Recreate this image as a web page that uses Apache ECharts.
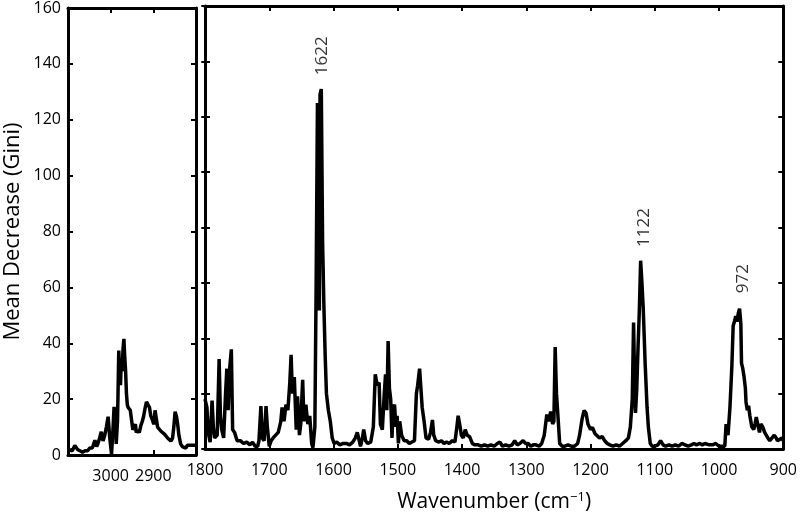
<!DOCTYPE html>
<html>
<head>
<meta charset="utf-8">
<script src="https://cdn.jsdelivr.net/npm/echarts@6/dist/echarts.min.js"></script>
<style>html,body{margin:0;padding:0;background:#fff;}#c{width:800px;height:518px;}</style>
</head>
<body>
<div id="c"></div>
<script>
// Left panel (C-H region)
const leftWn = [3100,3095,3090,3084,3078,3072,3066,3060,3054,3049,3043,3037,3033,3030,3026,3022,3018,3014,3010,3006,3002,2998,2995,2992,2989,2987,2984,2983,2981,2979,2977,2975,2973,2971,2969,2967,2965,2963,2961,2959,2957,2954,2952,2948,2945,2942,2940,2937,2933,2929,2926,2923,2919,2916,2913,2909,2906,2902,2899,2896,2893,2890,2886,2882,2878,2874,2870,2866,2862,2859,2855,2852,2849,2846,2843,2840,2836,2832,2828,2824,2820,2816,2812,2809,2805,2800];
const leftVal = [1.5,1.8,1.5,3.4,2,1.5,1,1.5,1.5,2.5,2.5,5.3,3,4,6,8.3,5,7,10,13.7,6,0.3,8,17.2,13,4,12,20,37.4,30,25,34,30,38,41.6,35,30,22,18,17,17,16,16,9,10,11,8,9,8,10.7,12,13.7,17,19,18.5,17,14,12.5,11,16,13,10,9.5,8.5,8,7.5,7,6,5.5,5,6,10,15.5,14,11,7,4,3,3,2.5,3.5,3.5,3.5,4,3.5,3.5];

// Right panel (fingerprint region)
const rightWn = [1800,1797,1795,1792,1789,1787,1785,1781,1778,1776,1774,1771,1768,1766,1764,1762,1759,1757,1754,1750,1745,1740,1735,1730,1726,1722,1718,1716,1713,1711,1708,1705,1703,1700,1697,1694,1690,1686,1682,1680,1677,1674,1671,1668,1666,1664,1661,1658,1656,1653,1651,1648,1646,1643,1640,1637,1634,1632,1629,1627,1625,1623,1622,1621,1619,1617,1615,1613,1611,1608,1605,1602,1599,1595,1590,1585,1580,1575,1570,1566,1563,1560,1558,1555,1553,1550,1547,1542,1538,1535,1532,1529,1527,1524,1521,1519,1517,1515,1513,1511,1509,1507,1505,1503,1501,1499,1497,1494,1490,1486,1482,1478,1474,1471,1469,1466,1464,1462,1459,1456,1452,1449,1446,1444,1441,1436,1432,1428,1424,1420,1415,1411,1408,1406,1403,1401,1398,1395,1392,1388,1384,1380,1375,1370,1365,1360,1355,1350,1345,1341,1337,1332,1327,1322,1318,1314,1310,1305,1301,1297,1293,1289,1285,1280,1276,1272,1268,1265,1262,1259,1257,1255,1253,1251,1248,1244,1240,1235,1230,1225,1220,1217,1213,1210,1207,1204,1200,1197,1193,1190,1186,1182,1178,1174,1170,1165,1160,1155,1150,1145,1141,1138,1135,1133,1131,1130,1128,1126,1124,1122,1120,1118,1115,1112,1110,1107,1104,1100,1095,1091,1087,1083,1078,1073,1068,1063,1058,1053,1048,1043,1039,1035,1030,1026,1022,1019,1015,1010,1005,1000,995,991,989,986,983,980,978,976,974,972,970,968,966,965,963,961,959,958,956,954,952,949,946,944,942,939,937,935,932,929,927,924,921,918,914,911,909,906,902,900];
const rightVal = [18,15,6,2.5,17.5,8,4,5,32.5,12,7,4,20,29,14,28,36,7,6,3,3,2,2.5,1.5,2.5,1,1,3,15.5,4,3,15.5,8,1,3,4,5,6,10,15,10,16,14,24,34,20,26,7,19,5,9,25,10,16,9,12,2,0.5,8,60,125,118,50,128,130,75,52,34,20,14,10,4,2,2.5,1.5,2,2,1.5,2.5,4,6,3,1,4,7,3,2,2.5,8,27,23,24,9,7,20,27,14,39,22,18,4,15,16,8,12,2,10,5,3,3,2,2.5,3,20,23,29,22,15,10,4,3.5,6,10.5,5,3,2.5,3,2,2.5,2,3,2.5,8,12,8,5,4,7,5,4.4,2,1.5,1.5,1,1.5,1,1.5,1,2,2.5,1,1.5,1,1.5,3,1.5,2,3,2,2,1,1.5,1.5,1,2,5,12.5,10,13.5,9,10,36.8,20,13,2,1,1,1.5,1,1,2,5,11,13.9,13,9,7,7.8,5.5,5,4,4.5,3,2,1.5,1,1.5,1,2,3,4,8,18,45.7,20,13,22,37,50,68,60,51,31,15,8,2,1,1,1.5,3,1.5,1,1.5,1,1.5,1,2,1.5,1,1.5,2,1.5,2,1.5,2,2.5,1.5,1.5,2,1,1,1,9,5,15,30,44.5,46,48,46,49,50.7,45,31,29,26,22,17,14,15.6,12,8,7,9,11.5,8,6,9,8,6,6,4,3,3,5,4,3,2.5,4,3];

// Peak annotations
const annLabels = ['1622','1122','972'];
const annWn = [1618,1116,962];
const annY = [142,80,61.5];

// Tick settings
const yTicks = {min:0, max:160, interval:20};
const leftRange = {min:2800, max:3100, interval:100};
const rightRange = {min:900, max:1800, interval:100};

const FONT = '"Open Sans", "Liberation Sans", sans-serif';
const zip = (a,b)=>a.map((v,i)=>[v,b[i]]);

const chart = echarts.init(document.getElementById('c'), null, {renderer:'canvas'});

const GRIDS = [{left:68, top:6, width:128, height:449},{left:205, top:6, width:582, height:449}];

const mkTick = (inside)=>({show:true, inside:inside, length:5, lineStyle:{color:'#000', width:2}});
const mkLine = (show)=>({show:show, onZero:false, lineStyle:{color:'#000', width:3}});
function lbl(show, margin, extra){
  return Object.assign({show:show, color:'#000', fontSize:16, fontFamily:FONT, margin:margin, formatter:v=>String(v)}, extra||{});
}
function xAx(grid, range, pos, showLabel, extra){
  return Object.assign({
    type:'value', gridIndex:grid, position:pos, inverse:true,
    min:range.min, max:range.max, interval:range.interval,
    axisLine:mkLine(true), axisTick:mkTick(true), splitLine:{show:false},
    axisLabel:lbl(showLabel, 13)
  }, extra||{});
}
function yAx(grid, pos, showLabel, extra){
  return Object.assign({
    type:'value', gridIndex:grid, position:pos,
    min:yTicks.min, max:yTicks.max, interval:yTicks.interval,
    axisLine:mkLine(true), axisTick:mkTick(true), splitLine:{show:false},
    axisLabel:lbl(showLabel, 7)
  }, extra||{});
}
// helper axis: right-positioned, shifted to the grid's left edge, ticks pointing into the plot
function yTickLeft(grid){
  return yAx(grid, 'right', false, {offset:-GRIDS[grid].width, axisLine:mkLine(false), axisTick:mkTick(false)});
}

const option = {
  animation:false,
  backgroundColor:'#fff',
  grid:GRIDS,
  xAxis:[
    xAx(0, leftRange, 'bottom', true, {axisLabel:lbl(true, 13, {showMinLabel:false, showMaxLabel:false})}),
    xAx(0, leftRange, 'top', false),
    xAx(1, rightRange, 'bottom', true, {
      name:'Wavenumber (cm{sup|−1})', nameLocation:'middle', nameGap:42,
      nameTextStyle:{color:'#000', fontSize:21, fontFamily:FONT,
        rich:{sup:{fontSize:13, fontFamily:FONT, color:'#000', verticalAlign:'top', padding:[0,0,10,0]}}}
    }),
    xAx(1, rightRange, 'top', false)
  ],
  yAxis:[
    yAx(0, 'left', true, {name:'Mean Decrease (Gini)', nameLocation:'middle', nameGap:44,
      nameTextStyle:{color:'#000', fontSize:22, fontFamily:FONT}}),
    yAx(0, 'right', false),
    yAx(1, 'left', false),
    yAx(1, 'right', false),
    yTickLeft(0),
    yTickLeft(1)
  ],
  series:[
    {type:'line', xAxisIndex:0, yAxisIndex:0, data:zip(leftWn,leftVal), showSymbol:false, symbol:'none',
      lineStyle:{color:'#000', width:3.5}, clip:true, silent:true},
    {type:'line', xAxisIndex:2, yAxisIndex:2, data:zip(rightWn,rightVal), showSymbol:false, symbol:'none',
      lineStyle:{color:'#000', width:3.5}, clip:true, silent:true},
    {type:'scatter', xAxisIndex:2, yAxisIndex:2, symbolSize:0, silent:true,
      data:annLabels.map((t,i)=>({name:t, value:[annWn[i], annY[i]]})),
      label:{show:true, position:'inside', rotate:90, formatter:p=>p.name, color:'#000', fontSize:17, fontFamily:FONT}}
  ]
};
chart.setOption(option);
</script>
</body>
</html>
